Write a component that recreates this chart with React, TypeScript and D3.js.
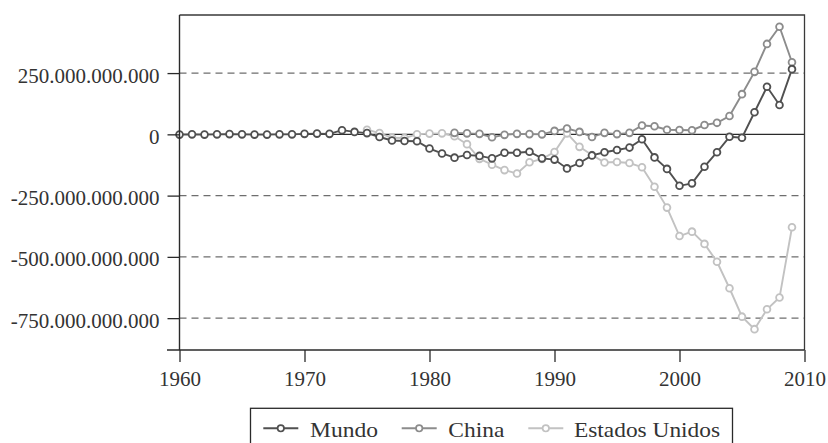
import React, { useEffect, useRef } from 'react';
import * as d3 from 'd3';

// Values in billions (miles de millones) of US$
const YEARS = d3.range(1960, 2010);
const MUNDO = [
  -1, 0, -1, 0, 1, 0, -1, -1, 0, 0,
  2, 3, 2, 17, 10, 5, -11, -25, -27, -28,
  -58, -78, -95, -84, -88, -98, -75, -75, -71, -98,
  -103, -139, -117, -86, -73, -64, -54, -20, -94, -141,
  -210, -200, -132, -73, -10, -14, 90, 194, 120, 266,
];
const CHINA_FROM = 1982;
const CHINA = [
  6, 4, 2, -12, -2, 2, 1, 0,
  14, 24, 10, -11, 6, 1, 6, 36, 33, 19,
  18, 17, 38, 47, 75, 164, 255, 369, 439, 294,
];
const US_FROM = 1975;
const US = [
  19, 5, -14, -15, 0,
  3, 4, -8, -40, -100, -124, -146, -160, -114, -100,
  -72, 4, -51, -84, -115, -113, -117, -134, -214, -299,
  -415, -397, -447, -520, -628, -744, -795, -714, -666, -379,
];
const Y_TICKS = [250, 0, -250, -500, -750];
const Y_TICK_LABELS = ['250.000.000.000', '0', '-250.000.000.000', '-500.000.000.000', '-750.000.000.000'];
const X_TICKS = [1960, 1970, 1980, 1990, 2000, 2010];
const SERIES_NAMES = ['Mundo', 'China', 'Estados Unidos'];
const SERIES_COLORS = ['#505050', '#8c8c8c', '#c2c2c2'];

const W = 828;
const H = 443;
const FONT = '"Liberation Serif", "Times New Roman", serif';

export default function App() {
  const ref = useRef<SVGSVGElement>(null);

  useEffect(() => {
    const svg = d3.select(ref.current);
    svg.selectAll('*').remove();

    const left = 179.5, right = 804.5, top = 15, bottom = 350;
    const x = d3.scaleLinear().domain([1960, 2010]).range([left, right]);
    const y = d3.scaleLinear().domain([-880, 487]).range([bottom, top]);

    // gridlines
    svg.append('g')
      .selectAll('line')
      .data(Y_TICKS.filter((v) => v !== 0))
      .join('line')
      .attr('x1', left).attr('x2', right)
      .attr('y1', (d) => y(d)).attr('y2', (d) => y(d))
      .attr('stroke', '#6e6e6e')
      .attr('stroke-width', 1.2)
      .attr('stroke-dasharray', '7,5');

    // zero line
    svg.append('line')
      .attr('x1', left).attr('x2', right)
      .attr('y1', y(0)).attr('y2', y(0))
      .attr('stroke', '#2a2a2a')
      .attr('stroke-width', 1.3);

    const series = [
      { name: SERIES_NAMES[2], color: SERIES_COLORS[2], pts: US.map((v, i) => [US_FROM + i, v]) },
      { name: SERIES_NAMES[1], color: SERIES_COLORS[1], pts: CHINA.map((v, i) => [CHINA_FROM + i, v]) },
      { name: SERIES_NAMES[0], color: SERIES_COLORS[0], pts: YEARS.map((yr, i) => [yr, MUNDO[i]]) },
    ];

    const line = d3.line<number[]>().x((d) => x(d[0])).y((d) => y(d[1]));

    series.forEach((s) => {
      const g = svg.append('g');
      g.append('path')
        .attr('d', line(s.pts as number[][]))
        .attr('fill', 'none')
        .attr('stroke', s.color)
        .attr('stroke-width', 1.9);
      g.selectAll('circle')
        .data(s.pts)
        .join('circle')
        .attr('cx', (d) => x(d[0]))
        .attr('cy', (d) => y(d[1]))
        .attr('r', 3.4)
        .attr('fill', '#fff')
        .attr('stroke', s.color)
        .attr('stroke-width', 1.8);
    });

    // frame (top, right)
    svg.append('path')
      .attr('d', `M${left},${top}H${right}V${bottom}`)
      .attr('fill', 'none')
      .attr('stroke', '#3a3a3a')
      .attr('stroke-width', 1.3);

    // y axis
    const yAxis = d3.axisLeft(y)
      .tickValues(Y_TICKS)
      .tickFormat((_d, i) => Y_TICK_LABELS[i])
      .tickSize(12)
      .tickPadding(8);
    const gy = svg.append('g').attr('transform', `translate(${left},0)`).call(yAxis);
    gy.select('.domain').remove();
    gy.append('line')
      .attr('x1', 0).attr('x2', 0).attr('y1', top).attr('y2', bottom)
      .attr('stroke', '#2a2a2a').attr('stroke-width', 1.4);
    gy.selectAll('.tick line').attr('stroke', '#2a2a2a').attr('stroke-width', 1.3);
    gy.selectAll('.tick text')
      .attr('font-family', FONT)
      .attr('font-size', 21)
      .attr('fill', '#333')
      .attr('dy', '0.43em');

    // x axis
    const xAxis = d3.axisBottom(x)
      .tickValues(X_TICKS)
      .tickFormat((d) => String(d))
      .tickSize(12)
      .tickPadding(8);
    const gx = svg.append('g').attr('transform', `translate(0,${bottom})`).call(xAxis);
    gx.select('.domain').remove();
    gx.append('line')
      .attr('x1', left - 12.5).attr('x2', right).attr('y1', 0).attr('y2', 0)
      .attr('stroke', '#2a2a2a').attr('stroke-width', 1.4);
    gx.selectAll('.tick line').attr('stroke', '#2a2a2a').attr('stroke-width', 1.3);
    gx.selectAll('.tick text')
      .attr('font-family', FONT)
      .attr('font-size', 21)
      .attr('fill', '#333')
      .attr('dy', '0.76em');

    // legend
    const lg = svg.append('g');
    lg.append('rect')
      .attr('x', 250.5).attr('y', 408.3)
      .attr('width', 482).attr('height', 60)
      .attr('fill', '#fff')
      .attr('stroke', '#2a2a2a')
      .attr('stroke-width', 1.3);
    const items = [
      { name: SERIES_NAMES[0], color: SERIES_COLORS[0], sx: 263.3, tx: 310, tl: 68 },
      { name: SERIES_NAMES[1], color: SERIES_COLORS[1], sx: 401.7, tx: 448.3, tl: 56 },
      { name: SERIES_NAMES[2], color: SERIES_COLORS[2], sx: 528.3, tx: 574, tl: 146 },
    ];
    const ly = 428.3;
    items.forEach((it) => {
      lg.append('line')
        .attr('x1', it.sx).attr('x2', it.sx + 35)
        .attr('y1', ly).attr('y2', ly)
        .attr('stroke', it.color).attr('stroke-width', 1.9);
      lg.append('circle')
        .attr('cx', it.sx + 17.5).attr('cy', ly).attr('r', 3.2)
        .attr('fill', '#fff').attr('stroke', it.color).attr('stroke-width', 1.7);
      lg.append('text')
        .attr('x', it.tx).attr('y', 436.7)
        .attr('font-family', FONT)
        .attr('font-size', 21)
        .attr('fill', '#333')
        .attr('textLength', it.tl)
        .attr('lengthAdjust', 'spacingAndGlyphs')
        .text(it.name);
    });
  }, []);

  return (
    <svg
      ref={ref}
      width={W}
      height={H}
      style={{ position: 'absolute', left: 0, top: 0, display: 'block', background: '#fff' }}
    />
  );
}
